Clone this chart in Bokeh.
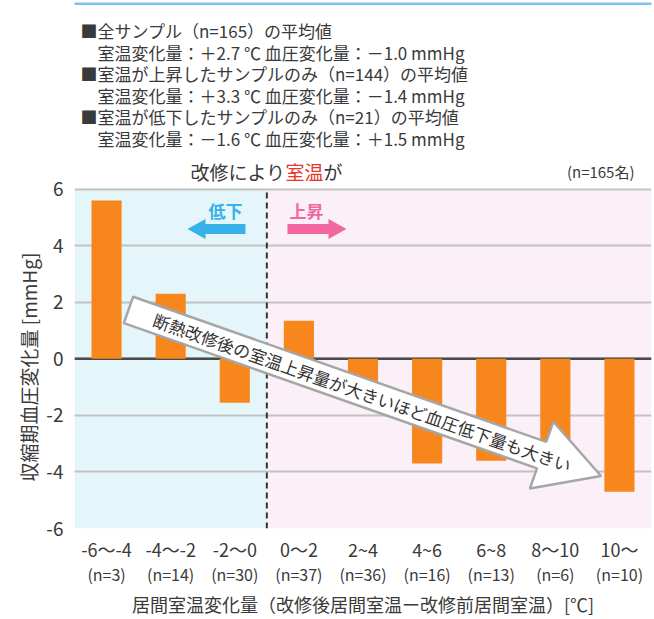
import math
from bokeh.plotting import figure
from bokeh.models import FactorRange, Range1d, CategoricalAxis, Label, BoxAnnotation, Span, Title
from bokeh.core.properties import value
from bokeh.embed import file_html
from bokeh.resources import INLINE

FONT = "Noto Sans CJK JP"

# ---------------- data ----------------
temp_bins = ["-6〜-4", "-4〜-2", "-2〜0", "0〜2", "2~4", "4~6", "6~8", "8〜10", "10〜"]
n_samples = ["(n=3)", "(n=14)", "(n=30)", "(n=37)", "(n=36)", "(n=16)", "(n=13)", "(n=6)", "(n=10)"]
bp_change = [5.6, 2.3, -1.55, 1.35, -0.9, -3.7, -3.6, -3.2, -4.7]
y_ticks = [-6, -4, -2, 0, 2, 4, 6]
y_tick_labels = ["-6", "-4", "-2", "0", "2", "4", "6"]
n_decrease_bins = 3  # bins where room temperature fell

summary_lines = [
    "■全サンプル（n=165）の平均値",
    "室温変化量：＋2.7 ℃ 血圧変化量：－1.0 mmHg",
    "■室温が上昇したサンプルのみ（n=144）の平均値",
    "室温変化量：＋3.3 ℃ 血圧変化量：－1.4 mmHg",
    "■室温が低下したサンプルのみ（n=21）の平均値",
    "室温変化量：－1.6 ℃ 血圧変化量：＋1.5 mmHg",
]
title_parts = ["改修により", "室温", "が"]
sample_note = "(n=165名)"
down_label = "低下"
up_label = "上昇"
arrow_text = "断熱改修後の室温上昇量が大きいほど血圧低下量も大きい"
y_title = "収縮期血圧変化量 [mmHg]"
x_title = "居間室温変化量（改修後居間室温ー改修前居間室温）[℃]"

TXT = "#3a3a3a"

# ---------------- layout ----------------
W, H = 654, 619
FL, FR = 74, 651          # frame left/right (page px)
P6, PM6 = 189, 529        # page y of +6 and -6
NCAT = len(temp_bins)
Y0, Y1 = y_ticks[0], y_ticks[-1]
UNIT = (PM6 - P6) / (Y1 - Y0)   # px per mmHg

def dx(px):
    return (px - FL) * NCAT / (FR - FL)

def dy(py):
    return Y1 - (py - P6) / UNIT

p = figure(width=W, height=H,
           x_range=FactorRange(factors=temp_bins),
           y_range=Range1d(Y0, dy(0)),
           output_backend="svg", toolbar_location=None,
           min_border_left=FL, min_border_right=W - FR,
           min_border_top=0, min_border_bottom=H - PM6)
p.extra_x_ranges = {"n": FactorRange(factors=n_samples)}
p.outline_line_color = None
p.background_fill_color = "white"
p.border_fill_color = "white"

# backgrounds of the chart area
p.add_layout(BoxAnnotation(left=0, right=n_decrease_bins, top=Y1, bottom=Y0,
                           fill_color="#e5f6fa", fill_alpha=1, line_color=None, level="image"))
p.add_layout(BoxAnnotation(left=n_decrease_bins, right=NCAT, top=Y1, bottom=Y0,
                           fill_color="#fcf0f8", fill_alpha=1, line_color=None, level="image"))

# grid
p.xgrid.visible = False
p.ygrid.ticker = y_ticks
p.ygrid.grid_line_color = "#c2c2c2"
p.ygrid.grid_line_width = 2

p.add_layout(Span(location=0, dimension="width", line_color="#4a4a4a", line_width=2.5, level="underlay"))
p.segment(x0=[n_decrease_bins], y0=[Y0], x1=[n_decrease_bins], y1=[Y1],
          line_color="#333333", line_width=2, line_dash="6 4")

# bars
p.vbar(x=temp_bins, top=bp_change, width=0.47, fill_color="#f7861d", line_color=None)

# small direction arrows
def small_arrow(tail, tip, yc, color):
    d = 1 if tip > tail else -1
    hb = tip - d * 18
    xs = [tail, hb, hb, tip, hb, hb, tail]
    ys = [yc - 5, yc - 5, yc - 10, yc, yc + 10, yc + 5, yc + 5]
    p.patch([dx(v) for v in xs], [dy(v) for v in ys], fill_color=color, line_color=None)

small_arrow(245, 187, 229, "#36b1ea")
small_arrow(287, 346, 229, "#f2679f")

def lab(px, py, text, size, color=TXT, align="left", bold=False):
    p.add_layout(Label(x=dx(px), y=dy(py), text=text, text_font=FONT, text_font_size=size,
                       text_color=color, text_align=align, text_baseline="middle",
                       text_font_style="bold" if bold else "normal"))

lab(225, 210, down_label, "17px", color="#36b1ea", align="center", bold=True)
lab(306, 210, up_label, "17px", color="#f2679f", align="center", bold=True)

# header texts
p.add_layout(BoxAnnotation(left=dx(10), right=dx(W), top=dy(2), bottom=dy(4.5),
                           fill_color="#78c4ee", fill_alpha=1, line_color=None))
line_y = [30, 51.7, 73.3, 95, 116.7, 138.3]
for t, yy in zip(summary_lines, line_y):
    lab(80 if t.startswith("■") else 97, yy, t, "17px")

TY = 171
lab(190, TY, title_parts[0], "19px")
lab(190 + 5 * 19, TY, title_parts[1], "19px", color="#e8352a")
lab(190 + 7 * 19, TY, title_parts[2], "19px")
lab(634, TY, sample_note, "15px", align="right")

# big diagonal arrow
th = math.radians(19.4)
ux, uy = math.cos(th), math.sin(th)
nx, ny = -math.sin(th), math.cos(th)
cx, cy = 128, 310
shape = [(0, -14), (438, -14), (438, -35.5), (501, 0), (438, 35.5), (438, 14), (0, 14)]
p.patch([dx(cx + u * ux + n * nx) for u, n in shape],
        [dy(cy + u * uy + n * ny) for u, n in shape],
        fill_color="white", line_color="#a6a6a6", line_width=2.5)
p.text(x=[dx(cx + 248 * ux)], y=[dy(cy + 248 * uy)], text=[arrow_text], angle=-th,
       text_align="center", text_baseline="middle", text_font=value(FONT),
       text_font_size="17px", text_color="#333333")

# axes
yax = p.yaxis[0]
yax.ticker = y_ticks
yax.major_label_overrides = dict(zip(y_ticks, y_tick_labels))
yax.major_tick_line_color = None
yax.major_tick_out = 0
yax.major_tick_in = 0
yax.minor_tick_line_color = None
yax.minor_tick_out = 0
yax.axis_line_color = None
yax.major_label_standoff = 11
yax.major_label_text_font = FONT
yax.major_label_text_font_size = "19px"
yax.major_label_text_color = TXT

# vertical axis title, placed along the -6..6 part of the left side
p.add_layout(Title(text=y_title, align="left", offset=47, standoff=4,
                   text_font=FONT, text_font_size="19px", text_font_style="normal",
                   text_color=TXT), "left")

xax = p.xaxis[0]
xax.major_tick_line_color = None
xax.major_tick_out = 0
xax.major_tick_in = 0
xax.axis_line_color = None
xax.major_label_standoff = 7
xax.major_label_text_font = FONT
xax.major_label_text_font_size = "18px"
xax.major_label_text_color = TXT

xax2 = CategoricalAxis(x_range_name="n")
xax2.major_tick_line_color = None
xax2.major_tick_out = 0
xax2.major_tick_in = 0
xax2.axis_line_color = None
xax2.major_label_standoff = -3
xax2.major_label_text_font = FONT
xax2.major_label_text_font_size = "16px"
xax2.major_label_text_color = TXT
xax2.axis_label = x_title
xax2.axis_label_text_font = FONT
xax2.axis_label_text_font_size = "18px"
xax2.axis_label_text_font_style = "normal"
xax2.axis_label_text_color = TXT
xax2.axis_label_standoff = 2
p.add_layout(xax2, "below")

open("out.html", "w").write(file_html(p, INLINE))
